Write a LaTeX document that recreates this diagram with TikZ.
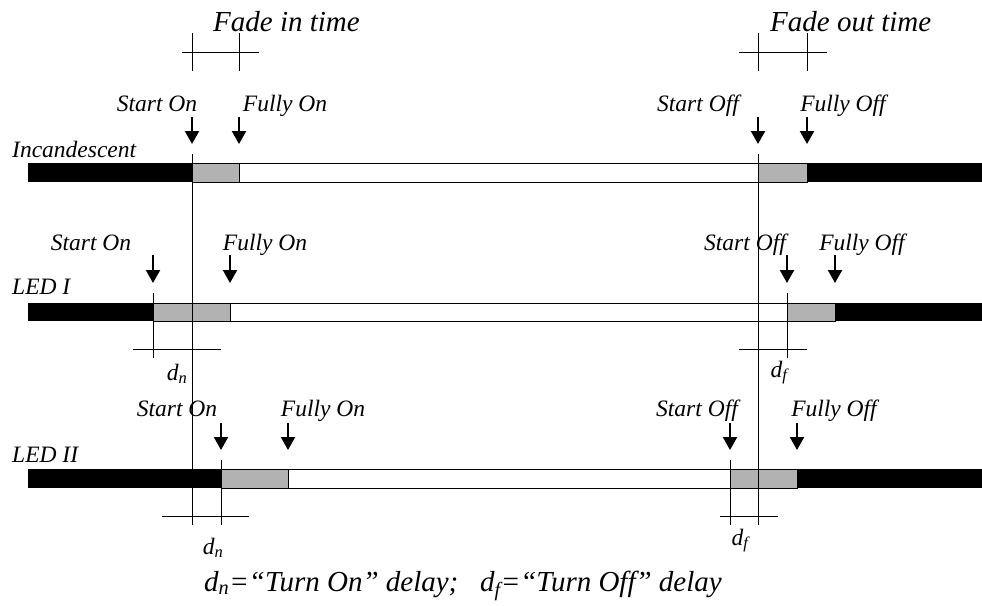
\documentclass[tikz,border=0pt]{standalone}
\usepackage{fontspec}
\setmainfont{Liberation Serif}
\usetikzlibrary{arrows.meta}
\definecolor{fadegray}{RGB}{178,178,178}
\newcommand\labelfont{\fontsize{23.5}{28}\selectfont\itshape}
\newcommand\titlefont{\fontsize{29}{34}\selectfont\itshape}
% one timing bar: y-top, y-bottom, start on, fully on, start off, fully off
\newcommand\timebar[6]{%
  \fill[black] (28,#1) rectangle (#3,#2);
  \draw[fill=white, line width=0.8pt] (#4,#1) rectangle (#5,#2);
  \filldraw[fill=fadegray, line width=0.8pt] (#3,#1) rectangle (#4,#2);
  \filldraw[fill=fadegray, line width=0.8pt] (#5,#1) rectangle (#6,#2);
  \fill[black] (#6,#1) rectangle (982,#2);
}
\begin{document}
\begin{tikzpicture}[x=1pt,y=-1pt,
  lbl/.style={anchor=base, inner sep=0pt, font=\labelfont},
  ttl/.style={anchor=base west, inner sep=0pt, font=\titlefont},
  thinline/.style={line width=0.8pt},
  pointer/.style={line width=2.2pt, -{Triangle[width=14pt,length=13pt]}}]
\useasboundingbox (0,0) rectangle (982,605);

% ---------- bars ----------
\timebar{163}{182}{192}{239}{758}{807}
\timebar{303}{321}{153}{230}{787}{835}
\timebar{469}{488}{221}{288}{730}{797}

% ---------- reference lines of the incandescent lamp ----------
\coordinate (refOnTop) at (192,154);
\coordinate (refOnBot) at (192,525);
\coordinate (refOffTop) at (758,154);
\coordinate (refOffBot) at (758,525);
\draw[thinline] (refOnTop) -- (refOnBot);
\draw[thinline] (refOffTop) -- (refOffBot);

% ---------- fade in / fade out spans ----------
\node[ttl] (fadein) at (213,31) {Fade in time};
\node[ttl] (fadeout) at (770,31) {Fade out time};
\draw[thinline] (182,52) -- (259,52);
\draw[thinline] (192,33) -- (192,71);
\draw[thinline] (239,33) -- (239,71);
\draw[thinline] (739,52) -- (827,52);
\draw[thinline] (758,33) -- (758,71);
\draw[thinline] (807,33) -- (807,71);

% ---------- Incandescent ----------
\node[lbl, anchor=base west] (inc) at (12,157) {Incandescent};
\node[lbl] (incSon) at (157,111) {Start On};
\node[lbl] (incFon) at (285,111) {Fully On};
\node[lbl] (incSoff) at (698,111) {Start Off};
\node[lbl] (incFoff) at (843,111) {Fully Off};
\foreach \x/\n in {192/a,239/b,758/c,807/d}{
  \coordinate (incP\n) at (\x,117);
  \coordinate (incT\n) at (\x,144);
  \draw[pointer] (incP\n) -- (incT\n);
}

% ---------- LED I ----------
\node[lbl, anchor=base west] (ledA) at (12,294) {LED I};
\node[lbl] (aSon) at (91,250) {Start On};
\node[lbl] (aFon) at (265,250) {Fully On};
\node[lbl] (aSoff) at (745,250) {Start Off};
\node[lbl] (aFoff) at (862,250) {Fully Off};
\foreach \x/\n in {153/a,230/b,787/c,835/d}{
  \coordinate (aP\n) at (\x,255);
  \coordinate (aT\n) at (\x,283);
  \draw[pointer] (aP\n) -- (aT\n);
}
\draw[thinline] (153,293) -- (153,358);
\draw[thinline] (133,349) -- (221,349);
\node[lbl] (aDn) at (177,380) {d\textsubscript{n}};
\draw[thinline] (787,293) -- (787,358);
\draw[thinline] (739,349) -- (807,349);
\node[lbl] (aDf) at (779,377) {d\textsubscript{f}};

% ---------- LED II ----------
\node[lbl, anchor=base west] (ledB) at (12,462) {LED II};
\node[lbl] (bSon) at (177,416) {Start On};
\node[lbl] (bFon) at (323,416) {Fully On};
\node[lbl] (bSoff) at (697,416) {Start Off};
\node[lbl] (bFoff) at (834,416) {Fully Off};
\foreach \x/\n in {221/a,288/b,730/c,797/d}{
  \coordinate (bP\n) at (\x,423);
  \coordinate (bT\n) at (\x,450);
  \draw[pointer] (bP\n) -- (bT\n);
}
\draw[thinline] (221,460) -- (221,525);
\draw[thinline] (162,516) -- (249,516);
\node[lbl] (bDn) at (213,554) {d\textsubscript{n}};
\draw[thinline] (730,460) -- (730,525);
\draw[thinline] (720,516) -- (778,516);
\node[lbl] (bDf) at (740,545) {d\textsubscript{f}};

% ---------- legend ----------
\node[ttl] (legend) at (204,591)
  {d\textsubscript{n}=“Turn On” delay;\hspace{0.75em}d\textsubscript{f}=“Turn Off” delay};
\end{tikzpicture}
\end{document}
